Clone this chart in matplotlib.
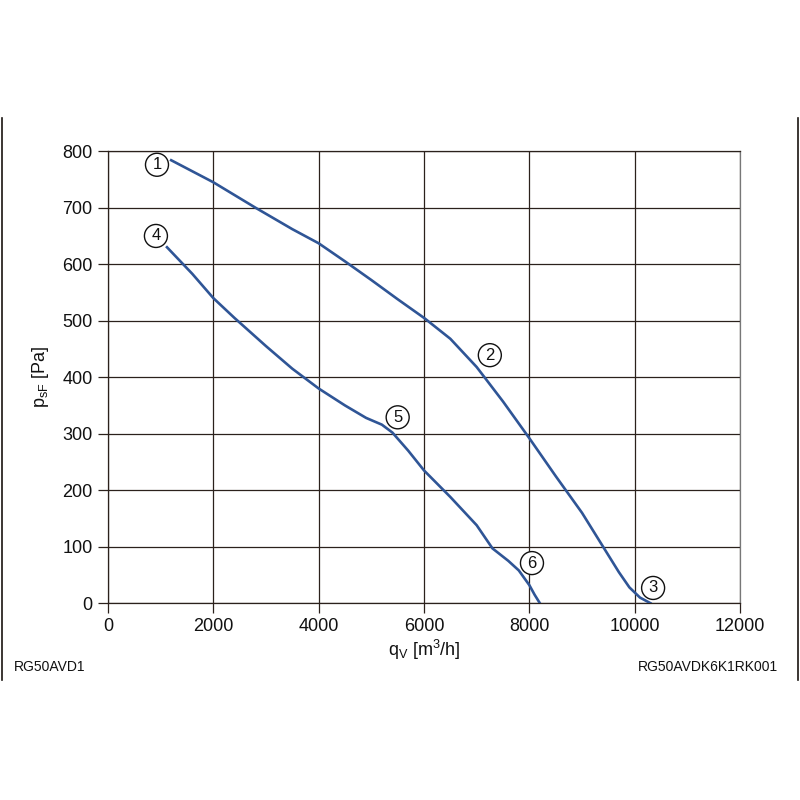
import matplotlib.pyplot as plt
from matplotlib.lines import Line2D

plt.rcParams['font.family'] = ['Liberation Sans', 'DejaVu Sans']

# Kennlinie 1-2-3
q_a = [1200, 2000, 2800, 3500, 4000, 4500, 5000, 5500, 6000, 6500, 7000, 7500,
       8000, 8500, 9000, 9400, 9700, 9900, 10100, 10300]
p_a = [784, 745, 700, 662, 637, 605, 572, 538, 505, 468, 418, 357,
       292, 225, 160, 100, 55, 28, 10, 0]

# Kennlinie 4-5-6
q_b = [1120, 1600, 2000, 2400, 3000, 3500, 4000, 4500, 4900, 5200, 5400, 5700,
       6000, 6500, 7000, 7300, 7600, 7800, 8000, 8100, 8200]
p_b = [630, 583, 540, 505, 455, 415, 380, 350, 328, 316, 302, 270,
       235, 188, 138, 97, 75, 58, 32, 15, 0]

labels = ['1', '2', '3', '4', '5', '6']
label_q = [930, 7250, 10350, 910, 5500, 8050]
label_p = [776, 439, 27, 650, 329, 71]

xticks = [0, 2000, 4000, 6000, 8000, 10000, 12000]
yticks = [0, 100, 200, 300, 400, 500, 600, 700, 800]

blue = '#2f5596'
grid_c = '#2b211c'

fig = plt.figure(figsize=(8, 8), dpi=100)
ax = fig.add_axes([0.135, 0.246, 0.79, 0.565])

ax.plot(q_a, p_a, color=blue, lw=1.9, zorder=3)
ax.plot(q_b, p_b, color=blue, lw=1.9, zorder=3)

for t, x, y in zip(labels, label_q, label_p):
    ax.text(x, y, t, ha='center', va='center', fontsize=12, color='#111111', zorder=4,
            bbox=dict(boxstyle='circle,pad=0.24', fc='white', ec='#111111', lw=1.0))

ax.set_xlim(0, 12000)
ax.set_ylim(0, 800)
ax.set_xticks(xticks)
ax.set_yticks(yticks)
ax.tick_params(direction='out', length=7, width=0.9, color=grid_c, labelsize=13,
               labelcolor='#111111', pad=4)
ax.grid(True, color=grid_c, lw=0.9)
ax.set_axisbelow(True)
for s in ax.spines.values():
    s.set_color(grid_c)
    s.set_linewidth(0.9)
ax.spines['right'].set_color('#777777')

ax.set_xlabel('q$_\\mathregular{V}$ [m$^\\mathregular{3}$/h]', fontsize=13, color='#111111', labelpad=2)
ax.set_ylabel('p$_\\mathregular{sF}$ [Pa]', fontsize=13, color='#111111', labelpad=8)

fig.text(0.017, 0.166, 'RG50AVD1', fontsize=10, ha='left', va='center', color='#111111')
fig.text(0.972, 0.166, 'RG50AVDK6K1RK001', fontsize=10, ha='right', va='center', color='#111111')

fig.add_artist(Line2D([0.002, 0.002], [0.15, 0.853], color='#1a1410', lw=1.2))
fig.add_artist(Line2D([0.997, 0.997], [0.15, 0.853], color='#1a1410', lw=1.2))

fig.savefig('out.png', dpi=100, facecolor='white')
